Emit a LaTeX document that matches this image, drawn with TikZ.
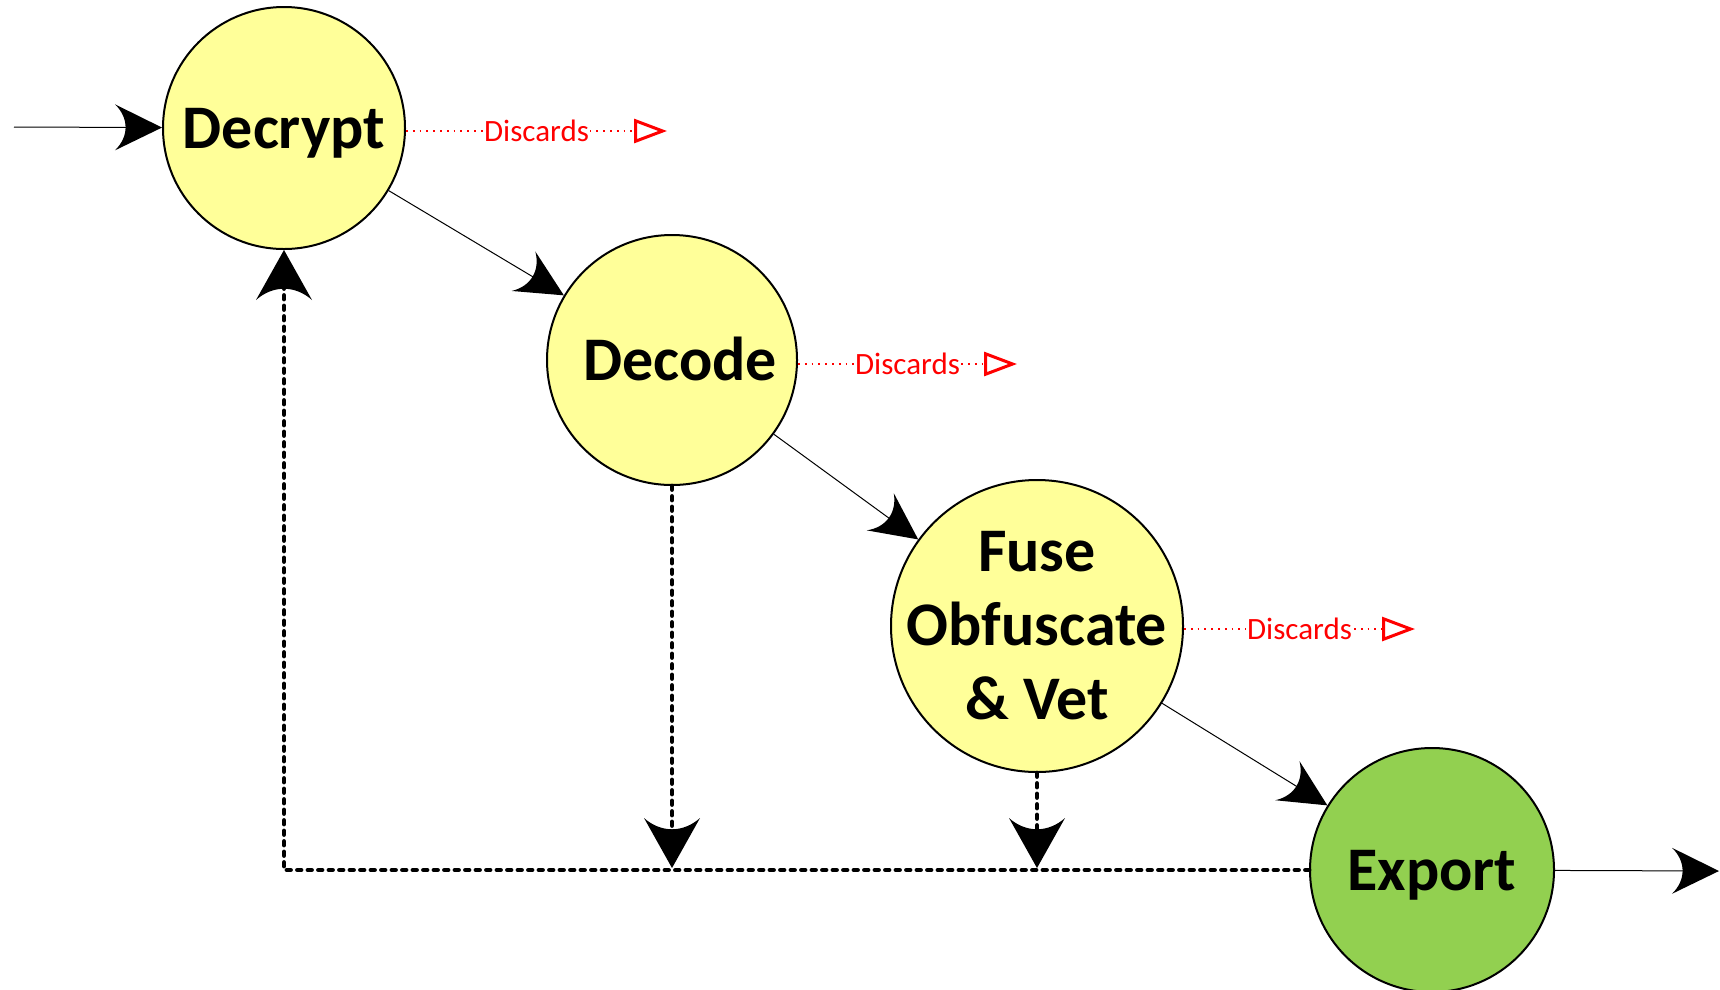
\documentclass[tikz,border=0pt]{standalone}
\usepackage{fontspec}
\setmainfont{Carlito}
\usetikzlibrary{arrows.meta}
\definecolor{yelfill}{HTML}{FFFF99}
\definecolor{expgreen}{HTML}{92D050}
\pgfdeclarearrow{
  name = CB,
  parameters = {\the\pgfarrowlength,\the\pgfarrowwidth},
  setup code = {
    \pgfarrowssettipend{0pt}
    \pgfarrowssetlineend{-0.7\pgfarrowlength}
    \pgfarrowssetbackend{-\pgfarrowlength}
    \pgfarrowssavethe\pgfarrowlength
    \pgfarrowssavethe\pgfarrowwidth
    \pgfarrowsupperhullpoint{0pt}{0pt}
    \pgfarrowsupperhullpoint{-\pgfarrowlength}{.5\pgfarrowwidth}
  },
  drawing code = {
    \pgfpathmoveto{\pgfqpoint{0pt}{0pt}}
    \pgfpathlineto{\pgfpoint{-\pgfarrowlength}{.5\pgfarrowwidth}}
    \pgfpathcurveto{\pgfpoint{-.7\pgfarrowlength}{.2\pgfarrowwidth}}{\pgfpoint{-.7\pgfarrowlength}{-.2\pgfarrowwidth}}{\pgfpoint{-\pgfarrowlength}{-.5\pgfarrowwidth}}
    \pgfpathclose
    \pgfusepathqfill
  },
  defaults = {length=47pt, width=46pt}
}
\begin{document}
\begin{tikzpicture}[x=1pt,y=-1pt,
  stage/.style={circle, draw=black, line width=2pt, inner sep=-60pt, font=\bfseries\fontsize{62}{74}\selectfont, align=center},
  onetext/.style={text height=40pt, text depth=0pt},
  flowline/.style={draw=black, line width=1pt, -{CB}},
  feedback/.style={draw=black, line width=4.8pt, line cap=round, dash pattern=on 3.5pt off 7pt, -{CB[length=50pt,width=56pt]}},
  discline/.style={draw=red, line width=1.8pt, dash pattern=on 1.8pt off 5pt, -{Triangle[open,length=33pt,width=24pt,line width=3pt]}},
  disclabel/.style={text=red, fill=white, inner sep=1pt, font=\fontsize{31}{37}\selectfont}
]
\useasboundingbox (0,0) rectangle (1720,989);
\fill[white] (0,0) rectangle (1720,989);

\node[stage, onetext, fill=yelfill, minimum size=242pt] (dec) at (284,128) {Decrypt};
\node[stage, onetext, fill=yelfill, minimum size=250pt] (dcd) at (672,360) {\hspace*{16pt}Decode};
\node[stage, fill=yelfill, minimum size=292pt] (fuse) at (1037,626) {Fuse\\Obfuscate\\\& Vet};
\node[stage, onetext, fill=expgreen, minimum size=244pt] (exp) at (1432,870) {Export};

\coordinate (in) at (14,127);
\coordinate (out) at (1719,871);
\coordinate (d1) at (667,131);
\coordinate (d2) at (1017,364);
\coordinate (d3) at (1415,629);
\coordinate (corner) at (284,870);
\coordinate (j1) at (672,868);
\coordinate (j2) at (1037,868);

\draw[flowline] (in) -- (dec);
\draw[flowline] (dec) -- (dcd);
\draw[flowline] (dcd) -- (fuse);
\draw[flowline] (fuse) -- (exp);
\draw[flowline] (exp) -- (out);

\draw[discline] (dec.east |- d1) -- node[disclabel]{Discards} (d1);
\draw[discline] (dcd.east |- d2) -- node[disclabel]{Discards} (d2);
\draw[discline] (fuse.east |- d3) -- node[disclabel]{Discards} (d3);

\draw[feedback] (exp.west) -- (corner) -- (dec.south);
\draw[feedback] (dcd.south) -- (j1);
\draw[feedback] (fuse.south) -- (j2);
\end{tikzpicture}
\end{document}
